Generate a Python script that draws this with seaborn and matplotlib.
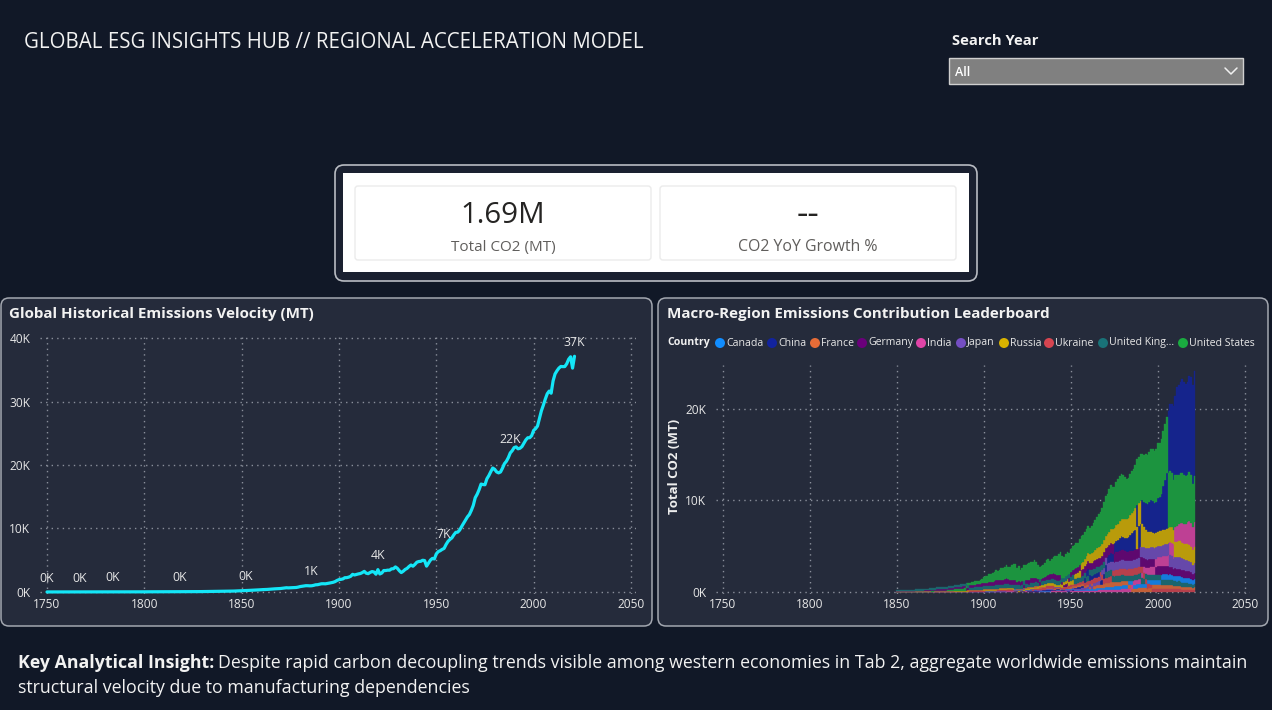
import numpy as np
import pandas as pd
import matplotlib
matplotlib.use("Agg")
import matplotlib.pyplot as plt
import matplotlib.colors as mcolors
import seaborn as sns
from matplotlib.patches import FancyBboxPatch, Circle, Rectangle
from matplotlib.lines import Line2D
from matplotlib.ticker import FuncFormatter, MultipleLocator

# ---------------- data ----------------
global_years = list(range(1750, 2022))
global_co2 = [
    9.4, 9.4, 9.4, 9.4, 9.4, 9.4, 10.2, 10.2, 10.2, 10.2,
    10.2, 10.3, 10.5, 10.6, 10.8, 11.0, 11.3, 11.6, 11.9, 12.2,
    12.5, 12.9, 13.3, 13.6, 14.0, 14.4, 14.7, 15.1, 15.5, 16.0,
    16.4, 16.9, 17.4, 17.9, 18.5, 18.9, 19.4, 20.0, 20.6, 21.2,
    21.9, 22.5, 23.0, 23.6, 24.2, 24.8, 25.4, 26.0, 26.6, 27.3,
    28, 29, 30, 31, 32, 33, 34, 34, 35, 35,
    36, 37, 37, 38, 39, 40, 41, 42, 43, 44,
    45, 46, 48, 49, 51, 53, 55, 57, 60, 63,
    67, 70, 73, 77, 81, 85, 89, 93, 98, 103,
    108, 113, 118, 123, 129, 137, 146, 158, 170, 183,
    197, 208, 222, 238, 258, 272, 292, 300, 314, 338,
    363, 378, 386, 403, 430, 456, 468, 498, 512, 532,
    550, 588, 642, 672, 648, 664, 678, 700, 712, 768,
    852, 898, 942, 994, 990, 968, 982, 1046, 1134, 1150,
    1221, 1296, 1302, 1288, 1352, 1400, 1460, 1528, 1638, 1820,
    1950, 1990, 2060, 2250, 2260, 2340, 2470, 2780, 2680, 2770,
    2850, 2910, 3060, 3250, 2960, 2890, 3080, 3220, 3150, 2800,
    3520, 2840, 2990, 3380, 3380, 3440, 3430, 3650, 3670, 3950,
    3730, 3350, 3060, 3270, 3550, 3720, 4020, 4250, 4060, 4340,
    4690, 4800, 4830, 5000, 4950, 4070, 4550, 5030, 5290, 5200,
    6000, 6360, 6500, 6710, 6860, 7470, 7960, 8280, 8520, 9000,
    9390, 9420, 9750, 10300, 10810, 11300, 11830, 12200, 12850, 13640,
    14850, 15400, 16120, 17000, 16920, 16890, 17830, 18330, 18950, 19520,
    19320, 18910, 18760, 18900, 19500, 20210, 20580, 21150, 21900, 22250,
    22750, 22850, 22550, 22640, 22900, 23420, 23950, 24290, 24300, 24620,
    25450, 25720, 26130, 27330, 28540, 29420, 30380, 31220, 31640, 31300,
    33240, 34330, 34840, 35260, 35520, 35490, 35500, 35930, 36650, 37040,
    35260, 37120,
]
label_years = [1750, 1767, 1784, 1818, 1852, 1886, 1920, 1954, 1988, 2021]

country_years = list(range(1850, 2022))
countries = ["Canada", "China", "France", "Germany", "India", "Japan",
             "Russia", "Ukraine", "United Kingdom", "United States"]
legend_labels = ["Canada", "China", "France", "Germany", "India", "Japan",
                 "Russia", "Ukraine", "United King...", "United States"]

canada = [
    1, 1, 1, 1, 1, 2, 2, 2, 2, 2,
    2, 3, 3, 3, 3, 3, 4, 4, 4, 5,
    5, 5, 6, 6, 6, 7, 7, 7, 8, 8,
    8, 9, 9, 10, 10, 11, 11, 12, 12, 13,
    14, 14, 15, 15, 16, 16, 17, 18, 19, 20,
    22, 24, 26, 28, 30, 32, 34, 38, 42, 44,
    46, 50, 54, 60, 52, 48, 56, 60, 64, 56,
    60, 52, 54, 62, 56, 58, 60, 62, 66, 70,
    64, 56, 50, 50, 54, 58, 62, 66, 62, 66,
    74, 80, 86, 90, 90, 88, 86, 92, 98, 96,
    110, 118, 122, 126, 130, 140, 150, 158, 165, 175,
    190, 195, 205, 210, 225, 240, 245, 265, 285, 300,
    340, 350, 370, 380, 380, 380, 390, 400, 410, 430,
    450, 440, 420, 420, 430, 430, 420, 440, 460, 470,
    460, 450, 460, 460, 470, 490, 500, 510, 520, 530,
    570, 560, 570, 590, 580, 580, 570, 600, 580, 550,
    560, 570, 570, 580, 580, 580, 570, 580, 590, 580,
    530, 550,
]
china = [
    0, 0, 0, 0, 0, 0, 0, 0, 0, 0,
    0, 0, 0, 0, 0, 0, 0, 0, 0, 0,
    0, 0, 0, 0, 0, 0, 0, 0, 0, 0,
    0, 0, 0, 0, 0, 0, 0, 0, 0, 0,
    0, 0, 0, 0, 0, 0, 0, 0, 0, 0,
    1, 2, 3, 5, 7, 9, 10, 12, 14, 16,
    18, 20, 22, 25, 26, 28, 30, 32, 34, 36,
    38, 36, 38, 40, 42, 45, 44, 46, 48, 50,
    52, 55, 56, 60, 66, 70, 76, 66, 64, 72,
    80, 90, 100, 90, 80, 65, 60, 62, 58, 60,
    79, 95, 130, 140, 170, 190, 210, 240, 510, 650,
    780, 550, 440, 450, 460, 480, 520, 450, 480, 580,
    770, 850, 900, 930, 950, 1150, 1190, 1290, 1460, 1490,
    1470, 1450, 1560, 1640, 1770, 1990, 2100, 2260, 2430, 2460,
    2480, 2620, 2740, 2960, 3100, 3320, 3460, 3470, 3320, 3340,
    3650, 3790, 4080, 4770, 5470, 6110, 6710, 7280, 7550, 8000,
    8620, 9530, 9780, 10000, 10290, 10150, 10030, 10140, 10500, 10700,
    10900, 11470,
]
france = [
    15, 16, 17, 18, 20, 22, 24, 25, 26, 27,
    28, 30, 32, 34, 36, 38, 40, 42, 42, 44,
    40, 44, 48, 52, 54, 56, 56, 56, 54, 58,
    60, 62, 64, 66, 66, 64, 64, 66, 68, 70,
    72, 74, 74, 74, 78, 80, 82, 86, 90, 94,
    100, 100, 98, 100, 102, 104, 106, 110, 112, 116,
    120, 124, 130, 136, 110, 80, 90, 90, 80, 90,
    110, 100, 120, 140, 160, 170, 180, 180, 180, 190,
    190, 180, 170, 170, 170, 160, 160, 170, 170, 170,
    130, 110, 110, 110, 90, 90, 140, 160, 170, 180,
    180, 200, 200, 190, 200, 210, 230, 240, 240, 240,
    260, 270, 290, 310, 320, 330, 330, 350, 350, 390,
    430, 440, 460, 490, 470, 440, 480, 470, 480, 500,
    480, 440, 420, 410, 390, 380, 370, 360, 360, 390,
    400, 420, 410, 390, 380, 390, 400, 390, 410, 410,
    420, 420, 410, 420, 420, 420, 410, 400, 390, 370,
    370, 350, 360, 360, 330, 340, 340, 350, 330, 310,
    280, 310,
]
germany = [
    30, 32, 35, 38, 40, 44, 48, 52, 55, 58,
    60, 65, 70, 75, 80, 85, 88, 95, 100, 105,
    108, 115, 125, 135, 140, 145, 150, 155, 160, 170,
    180, 190, 200, 210, 215, 220, 225, 235, 245, 255,
    265, 275, 280, 290, 300, 310, 320, 335, 355, 375,
    400, 390, 400, 430, 440, 460, 490, 520, 520, 520,
    530, 540, 570, 600, 540, 500, 530, 550, 520, 400,
    430, 420, 440, 330, 440, 480, 470, 520, 510, 540,
    470, 400, 350, 380, 420, 460, 500, 540, 560, 580,
    600, 620, 640, 660, 650, 350, 280, 320, 380, 440,
    510, 560, 590, 600, 640, 690, 730, 760, 770, 780,
    810, 830, 870, 920, 940, 950, 950, 930, 990, 1040,
    1030, 1030, 1050, 1090, 1060, 1000, 1070, 1050, 1080, 1120,
    1100, 1070, 1030, 1030, 1050, 1060, 1070, 1060, 1060, 1050,
    1050, 1010, 960, 950, 940, 940, 960, 930, 920, 900,
    900, 920, 900, 900, 890, 870, 880, 850, 860, 790,
    830, 810, 820, 840, 800, 800, 800, 790, 760, 700,
    640, 670,
]
india = [
    1, 1, 1, 1, 1, 1, 1, 1, 1, 1,
    1, 1, 1, 2, 2, 2, 2, 2, 2, 2,
    2, 2, 3, 3, 3, 3, 3, 4, 4, 4,
    4, 5, 5, 5, 6, 6, 6, 7, 7, 8,
    8, 9, 9, 10, 10, 11, 12, 12, 13, 14,
    15, 16, 17, 18, 19, 20, 21, 22, 24, 26,
    27, 28, 30, 32, 33, 34, 36, 38, 40, 38,
    36, 38, 38, 40, 40, 42, 43, 44, 46, 48,
    48, 46, 44, 45, 46, 48, 50, 52, 54, 55,
    56, 58, 60, 60, 62, 60, 58, 58, 60, 62,
    68, 70, 72, 74, 76, 80, 84, 90, 100, 108,
    120, 128, 136, 144, 150, 158, 164, 170, 176, 182,
    190, 196, 204, 210, 218, 226, 238, 246, 256, 274,
    290, 310, 330, 350, 370, 400, 430, 460, 500, 540,
    580, 620, 660, 690, 730, 780, 820, 860, 880, 910,
    980, 990, 1010, 1050, 1100, 1170, 1250, 1340, 1440, 1570,
    1680, 1760, 1880, 1960, 2120, 2190, 2270, 2400, 2590, 2620,
    2440, 2710,
]
japan = [
    0, 0, 0, 0, 0, 0, 0, 0, 0, 0,
    0, 0, 0, 0, 0, 0, 0, 0, 0, 0,
    0, 0, 0, 1, 1, 1, 1, 1, 1, 1,
    1, 2, 2, 2, 3, 3, 3, 4, 4, 5,
    5, 6, 7, 8, 8, 9, 10, 11, 12, 14,
    15, 17, 18, 20, 22, 24, 26, 28, 30, 32,
    34, 36, 38, 44, 46, 46, 50, 56, 60, 62,
    60, 58, 60, 62, 64, 66, 68, 72, 74, 76,
    72, 70, 74, 80, 88, 94, 100, 110, 118, 120,
    130, 134, 138, 140, 130, 60, 50, 64, 76, 90,
    100, 120, 126, 136, 140, 146, 160, 180, 174, 190,
    230, 270, 280, 310, 340, 380, 410, 470, 540, 630,
    770, 800, 850, 920, 900, 850, 880, 890, 880, 920,
    950, 930, 900, 890, 960, 920, 920, 930, 1000, 1020,
    1160, 1160, 1170, 1150, 1220, 1230, 1240, 1240, 1200, 1240,
    1270, 1250, 1280, 1290, 1290, 1290, 1270, 1310, 1240, 1160,
    1220, 1270, 1310, 1320, 1270, 1230, 1210, 1200, 1160, 1110,
    1040, 1070,
]
russia = [
    2, 2, 3, 3, 3, 3, 4, 4, 4, 5,
    5, 5, 6, 6, 6, 7, 7, 8, 8, 9,
    10, 11, 12, 13, 14, 15, 16, 17, 18, 19,
    20, 22, 24, 26, 28, 30, 32, 34, 36, 38,
    40, 43, 46, 50, 54, 58, 62, 66, 70, 75,
    80, 82, 84, 86, 90, 88, 92, 96, 98, 100,
    104, 108, 114, 120, 112, 100, 96, 80, 50, 40,
    35, 38, 45, 55, 65, 75, 90, 100, 110, 125,
    150, 170, 190, 200, 220, 250, 280, 300, 320, 340,
    360, 300, 240, 250, 280, 300, 330, 360, 400, 430,
    460, 500, 530, 570, 620, 680, 730, 780, 830, 880,
    920, 950, 990, 1040, 1090, 1150, 1200, 1250, 1290, 1340,
    1400, 1460, 1520, 1580, 1640, 1710, 1770, 1820, 1880, 1930,
    1980, 2010, 2050, 2090, 2130, 2190, 2260, 2320, 2400, 2480,
    2530, 2450, 2200, 2050, 1780, 1700, 1660, 1560, 1530, 1560,
    1550, 1560, 1560, 1600, 1610, 1620, 1670, 1660, 1690, 1580,
    1660, 1720, 1730, 1690, 1700, 1680, 1670, 1690, 1750, 1700,
    1620, 1760,
]
ukraine = [
    1, 1, 1, 1, 1, 1, 1, 2, 2, 2,
    2, 2, 2, 3, 3, 3, 3, 3, 4, 4,
    4, 5, 5, 6, 6, 7, 7, 8, 8, 9,
    10, 11, 12, 13, 14, 15, 16, 17, 18, 20,
    22, 24, 26, 28, 30, 32, 34, 36, 38, 40,
    42, 44, 45, 46, 48, 50, 52, 54, 56, 58,
    60, 62, 64, 66, 60, 55, 50, 45, 30, 25,
    20, 22, 26, 32, 38, 45, 52, 60, 68, 76,
    90, 100, 110, 120, 135, 150, 165, 175, 180, 190,
    200, 120, 60, 70, 100, 120, 130, 140, 160, 180,
    200, 215, 230, 245, 260, 280, 300, 320, 340, 360,
    380, 390, 410, 430, 450, 470, 490, 510, 530, 550,
    570, 590, 610, 630, 650, 670, 690, 700, 710, 720,
    720, 720, 720, 730, 730, 730, 740, 740, 740, 730,
    720, 680, 620, 550, 460, 430, 400, 380, 370, 360,
    350, 350, 350, 360, 360, 360, 370, 370, 350, 300,
    300, 310, 300, 290, 250, 210, 220, 200, 210, 200,
    190, 200,
]
united_kingdom = [
    120, 122, 125, 130, 135, 138, 142, 146, 148, 152,
    155, 158, 160, 165, 170, 178, 182, 188, 190, 195,
    210, 215, 220, 225, 220, 225, 228, 230, 228, 230,
    240, 245, 250, 255, 252, 250, 248, 255, 262, 270,
    275, 280, 270, 250, 285, 290, 295, 300, 305, 320,
    330, 335, 340, 345, 350, 352, 360, 380, 370, 375,
    380, 385, 370, 420, 400, 410, 410, 400, 390, 380,
    400, 300, 360, 390, 390, 380, 260, 400, 380, 400,
    380, 360, 350, 350, 370, 380, 390, 400, 390, 400,
    420, 430, 430, 430, 430, 420, 440, 440, 460, 470,
    480, 500, 500, 500, 520, 530, 530, 530, 520, 520,
    580, 580, 590, 610, 610, 620, 620, 610, 630, 650,
    660, 650, 640, 660, 630, 610, 610, 620, 620, 640,
    590, 570, 560, 550, 540, 570, 580, 580, 580, 590,
    600, 610, 590, 580, 570, 560, 580, 560, 560, 550,
    570, 580, 560, 570, 570, 560, 560, 560, 540, 490,
    510, 470, 490, 480, 440, 420, 400, 390, 380, 360,
    320, 350,
]
united_states = [
    5, 6, 7, 8, 9, 10, 11, 12, 13, 14,
    15, 16, 16, 18, 20, 22, 25, 27, 31, 33,
    37, 42, 50, 57, 54, 58, 62, 66, 70, 82,
    100, 120, 140, 160, 165, 170, 180, 200, 235, 230,
    270, 290, 310, 330, 300, 350, 360, 390, 430, 500,
    663, 700, 730, 850, 840, 950, 1010, 1150, 1020, 1100,
    1290, 1250, 1350, 1450, 1330, 1380, 1560, 1700, 1800, 1500,
    1700, 1350, 1450, 1800, 1700, 1740, 1850, 1760, 1800, 1950,
    1760, 1510, 1290, 1360, 1430, 1500, 1690, 1760, 1500, 1620,
    1780, 1950, 2070, 2300, 2470, 2400, 2300, 2430, 2500, 2260,
    2540, 2700, 2640, 2720, 2600, 2820, 2960, 2930, 2860, 2950,
    2890, 2880, 2990, 3130, 3270, 3420, 3610, 3770, 3940, 4140,
    4330, 4360, 4610, 4780, 4630, 4440, 4730, 4840, 4910, 4920,
    4780, 4620, 4360, 4370, 4530, 4580, 4600, 4760, 4960, 5030,
    5120, 5070, 5170, 5270, 5350, 5420, 5610, 5690, 5730, 5800,
    6010, 5910, 5950, 6010, 6110, 6130, 6050, 6130, 5920, 5480,
    5680, 5560, 5350, 5480, 5530, 5380, 5250, 5210, 5380, 5260,
    4710, 5010,
]

kpi_values = ["1.69M", "--"]
kpi_labels = ["Total CO2 (MT)", "CO2 YoY Growth %"]

# ---------------- style ----------------
W, H = 1272, 710
BG = "#111827"
PANEL = "#252b3b"
PANEL_EDGE = "#a3a7b0"
TXT = "#f2f2f2"
TICK = "#e6e6e6"
GRID = "#8a8f9b"
CYAN = "#14e6f7"
colors = {
    "Canada": "#118DFF", "China": "#12239E", "France": "#E66C37",
    "Germany": "#6B007B", "India": "#E044A7", "Japan": "#744EC2",
    "Russia": "#D9B300", "Ukraine": "#D64550", "United Kingdom": "#197278",
    "United States": "#1AAB40",
}


def blend(c, a=0.82):
    c1 = np.array(mcolors.to_rgb(c))
    c2 = np.array(mcolors.to_rgb(PANEL))
    return tuple(a * c1 + (1 - a) * c2)


sns.set_theme(style="dark")
plt.rcParams['font.family'] = ['Open Sans', 'DejaVu Sans']

fig = plt.figure(figsize=(W / 100, H / 100), dpi=100, facecolor=BG)
renderer = fig.canvas.get_renderer()


def fx(x):
    return x / W


def fy(y):
    return 1 - y / H


def rbox(l, t, r, b, fc, ec, lw=1.0, rad=8, z=-5):
    p = FancyBboxPatch((l / 100, (H - b) / 100), (r - l) / 100, (b - t) / 100,
                       boxstyle=f"round,pad=0,rounding_size={rad / 100}",
                       transform=fig.dpi_scale_trans, fc=fc, ec=ec, lw=lw, zorder=z)
    fig.add_artist(p)
    return p


def ftext(x, y, s, **kw):
    kw.setdefault("va", "center")
    kw.setdefault("color", TXT)
    return fig.text(fx(x), fy(y), s, **kw)


def fit(t, target_px):
    w = t.get_window_extent(renderer).width
    t.set_fontsize(t.get_fontsize() * target_px / w)
    return t


# ---------------- header ----------------
fit(ftext(24, 43, "GLOBAL ESG INSIGHTS HUB // REGIONAL ACCELERATION MODEL", fontsize=13), 618)
fit(ftext(952, 41, "Search Year", fontsize=10, fontweight="bold"), 86)
fig.add_artist(Rectangle((fx(949), fy(84)), fx(1243) - fx(949), fy(58) - fy(84),
                         transform=fig.transFigure, fc="#808080", ec="#cfcfcf", lw=1, zorder=-4))
ftext(955, 72, "All", fontsize=9, fontweight="semibold", color="#ffffff")
fig.add_artist(Line2D([fx(1225), fx(1231), fx(1237)], [fy(68), fy(74), fy(68)],
                      transform=fig.transFigure, color="#f0f0f0", lw=1.1))

# ---------------- KPI cards ----------------
rbox(335, 165, 977, 281, fc="#1a2030", ec="#b9bcc3", lw=1.2, rad=9, z=-6)
fig.add_artist(Rectangle((fx(343), fy(272)), fx(969) - fx(343), fy(173) - fy(272),
                         transform=fig.transFigure, fc="#ffffff", ec="none", zorder=-5))
card_x = [(355, 651), (660, 956)]
value_w = [85, 23]
label_w = [104, 139]
for (l, r), v, lab, vw, lw_ in zip(card_x, kpi_values, kpi_labels, value_w, label_w):
    rbox(l, 186, r, 260, fc="#ffffff", ec="#ebebeb", lw=1, rad=3, z=-4)
    cx = (l + r) / 2
    fit(ftext(cx, 215, v, fontsize=20, ha="center", color="#252423"), vw)
    fit(ftext(cx, 247, lab, fontsize=10, ha="center", color="#605e5c"), lw_)

# ---------------- panels ----------------
rbox(1, 298, 652, 626, fc=PANEL, ec=PANEL_EDGE, lw=1.1, rad=8)
rbox(658, 298, 1268, 626, fc=PANEL, ec=PANEL_EDGE, lw=1.1, rad=8)
fit(ftext(9, 314, "Global Historical Emissions Velocity (MT)", fontsize=11, fontweight="bold"), 306)
fit(ftext(667, 314, "Macro-Region Emissions Contribution Leaderboard", fontsize=11, fontweight="bold"), 383)

kfmt = FuncFormatter(lambda v, p: f"{v / 1000:.0f}K")


def style_axes(ax, ppad):
    ax.set_facecolor("none")
    for s in ax.spines.values():
        s.set_visible(False)
    ax.grid(True, color=GRID, linestyle=(0, (1, 3)), linewidth=1.0)
    ax.tick_params(axis="both", length=0, colors=TICK, labelsize=8.6)
    ax.tick_params(axis="y", pad=ppad)
    ax.tick_params(axis="x", pad=3)
    ax.xaxis.set_major_locator(MultipleLocator(50))
    ax.yaxis.set_major_formatter(kfmt)
    ax.set_xlabel("")
    ax.set_ylabel("")


# ---------------- left line chart ----------------
axL = fig.add_axes([fx(40), fy(594), (636 - 40) / W, (594 - 336) / H])
sns.lineplot(x=global_years, y=global_co2, ax=axL, color=CYAN, linewidth=2.3)
axL.set_xlim(1746.4, 2052.6)
axL.set_ylim(-315, 40315)
axL.yaxis.set_major_locator(MultipleLocator(10000))
style_axes(axL, 7)
for yr in label_years:
    v = global_co2[yr - 1750]
    axL.annotate(f"{v / 1000:.0f}K", (yr, v), xytext=(0, 10), textcoords="offset points",
                 ha="center", va="center", color=TICK, fontsize=8.8)

# ---------------- right ranked stacked bars ----------------
series = [canada, china, france, germany, india, japan, russia, ukraine,
          united_kingdom, united_states]
df = pd.DataFrame({c: s for c, s in zip(countries, series)}, index=country_years)
bottoms = pd.DataFrame(0.0, index=df.index, columns=countries)
for yr, row in df.iterrows():
    acc = 0.0
    for c in row.sort_values(kind="stable").index:
        bottoms.loc[yr, c] = acc
        acc += row[c]

axR = fig.add_axes([fx(716), fy(594), (1250 - 716) / W, (594 - 365) / H])
for c in countries:
    col = blend(colors[c])
    axR.bar(df.index, df[c], bottom=bottoms[c], width=1.0, color=col,
            edgecolor=col, linewidth=0.25)
axR.set_xlim(1746.0, 2052.9)
axR.set_ylim(-219, 24809)
axR.yaxis.set_major_locator(MultipleLocator(10000))
style_axes(axR, 7)
axR.set_axisbelow(True)
ftext(675, 466, "Total CO2 (MT)", fontsize=9.5, fontweight="bold", rotation=90,
      ha="center", color="#eeeeee")

# legend
ftext(667, 343, "Country", fontsize=7.6, fontweight="bold")
circle_x = [720, 772, 815, 862, 921, 961, 1004, 1049, 1103, 1183]
for cx, c, lab in zip(circle_x, countries, legend_labels):
    fig.add_artist(Circle((cx / 100, (H - 343) / 100), 0.05, transform=fig.dpi_scale_trans,
                          fc=colors[c], ec="none"))
    ftext(cx + 6, 343, lab, fontsize=7.6, color="#e8e8e8")

# ---------------- insight text ----------------
t1 = ftext(18, 663, "Key Analytical Insight:", fontsize=12, fontweight="bold")
rest = ("Despite rapid carbon decoupling trends visible among western economies in Tab 2, "
        "aggregate worldwide emissions maintain")
t2 = ftext(18, 663, rest, fontsize=12)
w1 = t1.get_window_extent(renderer).width
w2 = t2.get_window_extent(renderer).width
sp = 12 * 0.28
scale = 1225 / (w1 + w2 + sp)
fs = 12 * scale
t1.set_fontsize(fs)
t2.set_fontsize(fs)
w1 = t1.get_window_extent(renderer).width
t2.set_position((fx(18 + w1 + fs * 0.28), fy(663)))
ftext(18, 688, "structural velocity due to manufacturing dependencies", fontsize=fs)

fig.savefig("out.png", dpi=100, facecolor=BG)
